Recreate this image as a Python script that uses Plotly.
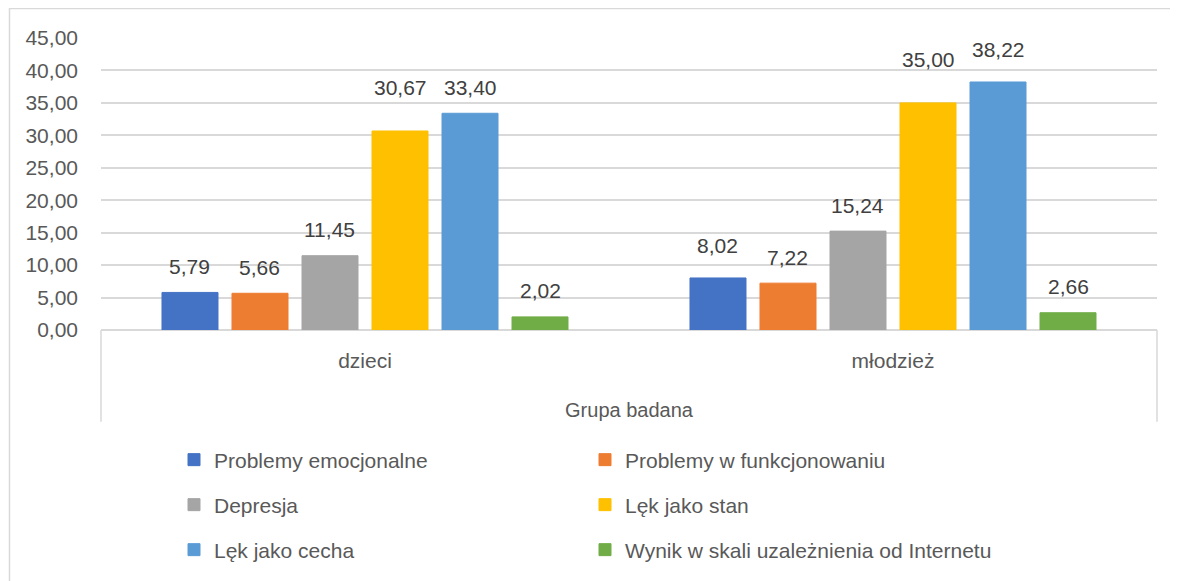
import plotly.graph_objects as go

categories = ["dzieci", "młodzież"]
series_names = [
    "Problemy emocjonalne",
    "Problemy w funkcjonowaniu",
    "Depresja",
    "Lęk jako stan",
    "Lęk jako cecha",
    "Wynik w skali uzależnienia od Internetu",
]
values = [
    [5.79, 8.02],
    [5.66, 7.22],
    [11.45, 15.24],
    [30.67, 35.00],
    [33.40, 38.22],
    [2.02, 2.66],
]
colors = ["#4472C4", "#ED7D31", "#A5A5A5", "#FFC000", "#5B9BD5", "#70AD47"]
y_ticks = [0, 5, 10, 15, 20, 25, 30, 35, 40, 45]

FONT = "Liberation Sans, Arial, sans-serif"
OFF = 8  # page body margin
W, H = 1178 - OFF, 581 - OFF
# plot area in page pixels: x 101..1157, y 38..331
PX0, PX1, PY0, PY1 = 101, 1157, 38, 331
L, T = PX0 - OFF, PY0 - OFF
R = W - (PX1 - OFF)
B = H - (PY1 - OFF)
PW = PX1 - PX0
PH = PY1 - PY0

def px_x(p):
    return (p - PX0) / PW

def px_y(p):
    return (PY1 - p) / PH

legend_ids = ["legend", "legend", "legend2", "legend2", "legend3", "legend3"]

fig = go.Figure()
for i, (name, vals, col) in enumerate(zip(series_names, values, colors)):
    fig.add_trace(go.Bar(
        x=categories, y=vals, name=name,
        marker=dict(color=col, line=dict(width=1, color=col)),
        legend=legend_ids[i],
    ))

# data labels (manual lifts mimic hand-placed labels of the original)
label_lift = {(3, 0): 17, (3, 1): 17, (4, 1): 6, (0, 1): 6}
nser = len(series_names)
slot = PW / len(categories) * (1 - 0.2045) / nser
for i, vals in enumerate(values):
    for j, (c, v) in enumerate(zip(categories, vals)):
        fig.add_annotation(
            x=c, y=v, xref="x", yref="y",
            text=f"{v:.2f}".replace(".", ","),
            showarrow=False, yanchor="middle",
            xshift=(i - (nser - 1) / 2) * slot,
            yshift=26 + label_lift.get((i, j), 0),
            font=dict(family=FONT, size=21, color="#404040"),
        )

grid = "#d9d9d9"
shapes = [
    dict(type="line", xref="paper", yref="paper", x0=0, x1=0, y0=0, y1=px_y(423),
         line=dict(color=grid, width=1.5)),
    dict(type="line", xref="paper", yref="paper", x0=1, x1=1, y0=0, y1=px_y(423),
         line=dict(color=grid, width=1.5)),
    dict(type="rect", xref="paper", yref="paper", x0=px_x(9.5), x1=px_x(1200),
         y0=px_y(600), y1=px_y(8.5), line=dict(color=grid, width=1.5), layer="below"),
]

leg_common = dict(
    orientation="h", xanchor="left", yanchor="middle",
    x=px_x(174), entrywidth=366, entrywidthmode="pixels",
    font=dict(family=FONT, size=21, color="#595959"),
    bgcolor="rgba(0,0,0,0)", itemwidth=30, itemclick=False, itemdoubleclick=False,
)

fig.update_layout(
    width=W, height=H,
    margin=dict(l=L, r=R, t=T, b=B, pad=0),
    paper_bgcolor="white", plot_bgcolor="white",
    barmode="group", bargap=0.2045, bargroupgap=0.2,
    separators=", ",
    font=dict(family=FONT, size=21, color="#595959"),
    shapes=shapes,
    legend=dict(**leg_common, y=px_y(460)),
    legend2=dict(**leg_common, y=px_y(505)),
    legend3=dict(**leg_common, y=px_y(550)),
    xaxis=dict(
        showgrid=False, showline=False, zeroline=False,
        ticks="outside", ticklen=12, tickcolor="rgba(0,0,0,0)",
        tickfont=dict(family=FONT, size=21, color="#595959"),
        title=dict(text="Grupa badana", standoff=31,
                   font=dict(family=FONT, size=20, color="#595959")),
    ),
    yaxis=dict(
        range=[0, 45], tickvals=y_ticks, tickformat=".2f",
        showgrid=True, gridcolor=grid, gridwidth=1.5,
        zeroline=True, zerolinecolor=grid, zerolinewidth=1.5,
        showline=False, ticks="", ticklabelstandoff=22,
        tickfont=dict(family=FONT, size=21, color="#595959"),
    ),
)

fig.write_html("out.html")
